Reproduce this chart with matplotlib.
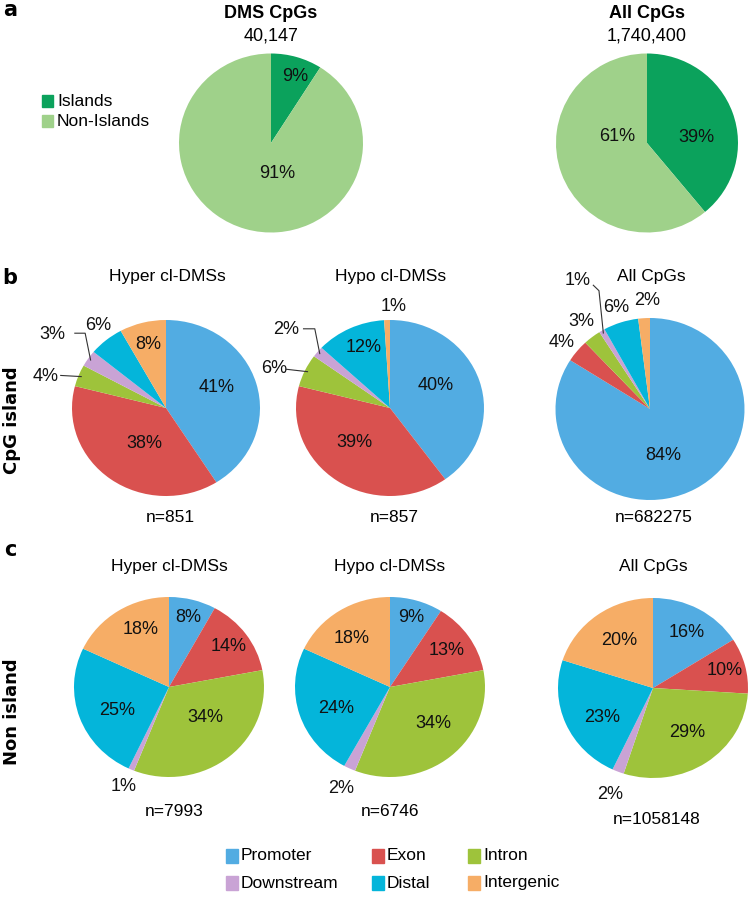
import numpy as np
import matplotlib
matplotlib.use("Agg")
import matplotlib.pyplot as plt
from matplotlib.patches import Rectangle

plt.rcParams['font.family'] = ['Liberation Sans', 'DejaVu Sans']

W, H = 750, 916

# Panel a data
island_labels = ['Islands', 'Non-Islands']
island_colors = ['#0ba25c', '#9fd18a']
dms_island = [9, 91]
all_island = [39, 61]

# Panels b and c data
region_labels = ['Promoter', 'Exon', 'Intron', 'Downstream', 'Distal', 'Intergenic']
region_colors = ['#52ace2', '#d9514f', '#9ec33b', '#c9a3d5', '#04b5da', '#f6ad66']
b_hyper = [41, 38, 4, 3, 6, 8]
b_hypo = [40, 39, 6, 2, 12, 1]
b_all = [84, 4, 3, 1, 6, 2]
c_hyper = [8, 14, 34, 1, 25, 18]
c_hypo = [9, 13, 34, 2, 24, 18]
c_all = [16, 10, 29, 2, 23, 20]
b_counts = ['n=851', 'n=857', 'n=682275']
c_counts = ['n=7993', 'n=6746', 'n=1058148']
group_titles = ['Hyper cl-DMSs', 'Hypo cl-DMSs', 'All CpGs']

fig = plt.figure(figsize=(W / 100, H / 100), dpi=100)


def fx(x):
    return x / W


def fy(y):
    return 1 - y / H


def ftext(x, y, s, **kw):
    kw.setdefault('ha', 'center')
    kw.setdefault('va', 'center')
    kw.setdefault('fontsize', 12.5)
    fig.text(fx(x), fy(y), s, **kw)


def add_pie(values, colors, cx, cy, w, h):
    ax = fig.add_axes([fx(cx - w / 2), fy(cy + h / 2), w / W, h / H])
    ax.pie(values, colors=colors, startangle=90, counterclock=False,
           wedgeprops=dict(linewidth=0))
    ax.set_aspect('auto')
    ax.set_xlim(-1, 1)
    ax.set_ylim(-1, 1)
    ax.axis('off')
    return ax


def mid_angles(values):
    v = np.array(values, dtype=float)
    cum = np.cumsum(v) - v / 2
    return np.deg2rad(90 - cum / v.sum() * 360)


def label_pie(ax, values, spec, fontsize=13):
    # spec per wedge: (radius, dx, dy, leader points or None)
    angs = mid_angles(values)
    for val, a, sp in zip(values, angs, spec):
        r, dx, dy, leader = sp
        x = r * np.cos(a) + dx
        y = r * np.sin(a) + dy
        ax.text(x, y, f'{val}%', ha='center', va='center', fontsize=fontsize,
                color='#111111', clip_on=False)
        if leader is not None:
            pts = [(0.97 * np.cos(a), 0.97 * np.sin(a))] + list(leader)
            xs, ys = zip(*pts)
            ax.plot(xs, ys, color='#333333', lw=0.8, clip_on=False)


# ---------------- panel a ----------------
ftext(10, 10, 'a', fontsize=15, fontweight='bold', family='DejaVu Sans')
ftext(271, 14, 'DMS CpGs', fontweight='bold', fontsize=13)
ftext(271, 36, '40,147', fontsize=13)
ftext(647, 14, 'All CpGs', fontweight='bold', fontsize=13)
ftext(647, 36, '1,740,400', fontsize=13)

ax = add_pie(dms_island, island_colors, 271, 143, 184, 179)
label_pie(ax, dms_island, [(0.77, 0.05, 0, None), (0.35, 0.16, 0, None)])
ax = add_pie(all_island, island_colors, 647, 143, 182, 179)
label_pie(ax, all_island, [(0.55, 0.03, -0.12, None), (0.35, 0, 0.19, None)])

for i, (lab, col) in enumerate(zip(island_labels, island_colors)):
    yy = 101 + i * 20
    fig.patches.append(Rectangle((fx(42), fy(yy + 6)), 11 / W, 12 / H,
                                 transform=fig.transFigure, color=col))
    ftext(57, yy, lab, ha='left')

# ---------------- panel b ----------------
ftext(10, 278, 'b', fontsize=15, fontweight='bold', family='DejaVu Sans')
ftext(12, 420, 'CpG island', rotation=90, fontweight='bold', fontsize=13,
      family='DejaVu Sans')
b_x = [166, 390, 650]
for x, t, n in zip(b_x, group_titles, b_counts):
    ftext(x + 1, 277, t)
    ftext(x + 4, 518, n)

ax = add_pie(b_hyper, region_colors, b_x[0], 408, 188, 176)
label_pie(ax, b_hyper, [
    (0.58, -0.02, 0.07, None),
    (0.5, 0.06, 0, None),
    (1.3, -0.07, -0.12, [(-1.12, 0.37)]),
    (1.3, -0.135, 0.10, [(-0.86, 0.85), (-0.97, 0.85)]),
    (1.3, 0.11, -0.06, None),
    (0.75, 0, 0, None),
])
ax = add_pie(b_hypo, region_colors, b_x[1], 408, 188, 176)
label_pie(ax, b_hypo, [
    (0.55, -0.04, 0.09, None),
    (0.5, -0.1, 0.02, None),
    (1.3, -0.06, -0.11, [(-1.02, 0.43), (-1.1, 0.44)]),
    (1.35, -0.06, 0.03, [(-0.80, 0.90), (-0.92, 0.90)]),
    (0.72, 0.03, 0.04, None),
    (1.15, 0.07, 0, None),
])
ax = add_pie(b_all, region_colors, b_x[2], 409, 189, 182)
label_pie(ax, b_all, [
    (0.55, -0.12, -0.03, None),
    (1.2, -0.01, -0.03, None),
    (1.22, 0.02, 0, None),
    (1.6, 0.05, 0.03, [(-0.54, 1.30), (-0.60, 1.36)]),
    (1.17, 0, 0, None),
    (1.2, 0.05, 0, None),
])

# ---------------- panel c ----------------
ftext(10, 550, 'c', fontsize=15, fontweight='bold', family='DejaVu Sans')
ftext(12, 712, 'Non island', rotation=90, fontweight='bold', fontsize=13,
      family='DejaVu Sans')
c_x = [169, 390, 653]
for x, t in zip(c_x, group_titles):
    ftext(x, 567, t)
ftext(c_x[0] + 5, 812, c_counts[0])
ftext(c_x[1], 812, c_counts[1])
ftext(c_x[2] + 4, 820, c_counts[2])

ax = add_pie(c_hyper, region_colors, c_x[0], 687, 190, 180)
label_pie(ax, c_hyper, [
    (0.8, 0, 0, None),
    (0.77, 0, 0, None),
    (0.5, 0.06, 0.05, None),
    (1.2, 0, 0, None),
    (0.58, 0, -0.06, None),
    (0.7, 0.08, 0.05, None),
])
ax = add_pie(c_hypo, region_colors, c_x[1], 687, 190, 180)
label_pie(ax, c_hypo, [
    (0.8, 0, 0, None),
    (0.72, 0, 0, None),
    (0.6, 0.07, 0.06, None),
    (1.22, 0, -0.02, None),
    (0.6, 0, -0.05, None),
    (0.67, -0.04, -0.03, None),
])
ax = add_pie(c_all, region_colors, c_x[2], 688, 190, 180)
label_pie(ax, c_all, [
    (0.7, 0.02, 0, None),
    (0.78, 0, 0, None),
    (0.6, 0.02, 0, None),
    (1.24, 0, -0.03, None),
    (0.6, 0.01, -0.09, None),
    (0.65, 0.03, 0, None),
])

# ---------------- legend ----------------
leg_x = [226, 372, 468]
leg_y = [856, 883]
for i, (lab, col) in enumerate(zip(region_labels, region_colors)):
    x = leg_x[i % 3]
    y = leg_y[i // 3]
    fig.patches.append(Rectangle((fx(x), fy(y + 7)), 12 / W, 14 / H,
                                 transform=fig.transFigure, color=col))
    ftext(x + 15, y, lab, ha='left')

fig.savefig('out.png', dpi=100)
